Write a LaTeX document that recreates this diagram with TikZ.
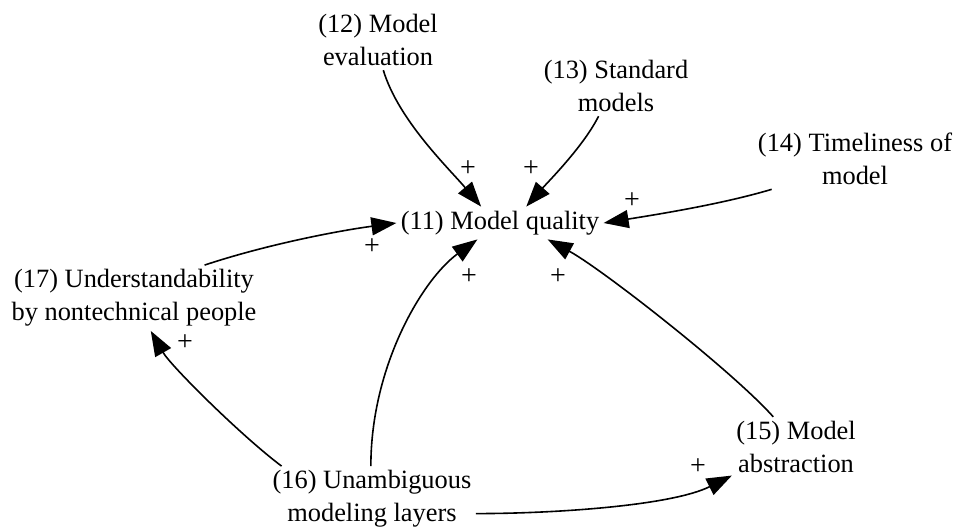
\documentclass[tikz,border=0pt]{standalone}
\usepackage{fontspec}
\setmainfont{Liberation Serif}
\usetikzlibrary{arrows.meta}
\tikzset{
	var/.style={inner sep=2pt, align=center, font=\fontsize{13.2}{16.5}\selectfont},
	link/.style={black, line width=0.8pt, -{Triangle[length=12.5pt,width=9pt]}},
	pol/.style={inner sep=0pt, font=\fontsize{14}{16}\selectfont}
}
\begin{document}
\begin{tikzpicture}[x=0.5pt, y=-0.5pt]
	        \useasboundingbox (0, 0) rectangle (962, 531);
	        \node [var] at (500, 223) (V11) {(11) Model quality};
	        \node [var] at (378, 40) (V12) {(12) Model\\evaluation};
	        \node [var] at (616, 86) (V13) {(13) Standard\\models};
	        \node [var] at (855, 159) (V14) {(14) Timeliness of\\model};
	        \node [var] at (796, 447) (V15) {(15) Model\\abstraction};
	        \node [var] at (372, 499) (V16) {(16) Unambiguous\\modeling layers};
	        \node [var] at (134, 298) (V17) {(17) Understandability\\by nontechnical people};
	        \draw [link] (V12.-80) .. controls +(15, 50) and +(-32, -38) .. (V11.139);
	        \draw [link] (V13.-120) .. controls +(-15, 30) and +(22, -25) .. (V11.32);
	        \draw [link] (V14.-160) .. controls +(-50, 15) and +(50, -8) .. (V11.east);
	        \draw [link] (V17.25) .. controls +(60, -20) and +(-60, 8) .. (V11.west);
	        \draw [link] (V16.92) .. controls +(0, -100) and +(-55, 40) .. (V11.-144);
	        \draw [link] (V15.127) .. controls +(-40, -45) and +(55, 30) .. (V11.-19);
	        \draw [link] (V16.160) .. controls +(-40, -30) and +(20, 35) .. (V17.-63);
	        \draw [link] (V16.-8) .. controls +(80, 0) and +(-60, 30) .. (V15.-156);
	        \node [pol] at (468, 169) (P1) {+};
	        \node [pol] at (531, 169) (P2) {+};
	        \node [pol] at (632, 201) (P3) {+};
	        \node [pol] at (372, 247) (P4) {+};
	        \node [pol] at (469, 277) (P5) {+};
	        \node [pol] at (558, 277) (P6) {+};
	        \node [pol] at (185, 343) (P7) {+};
	        \node [pol] at (698, 467) (P8) {+};
\end{tikzpicture}
\end{document}
